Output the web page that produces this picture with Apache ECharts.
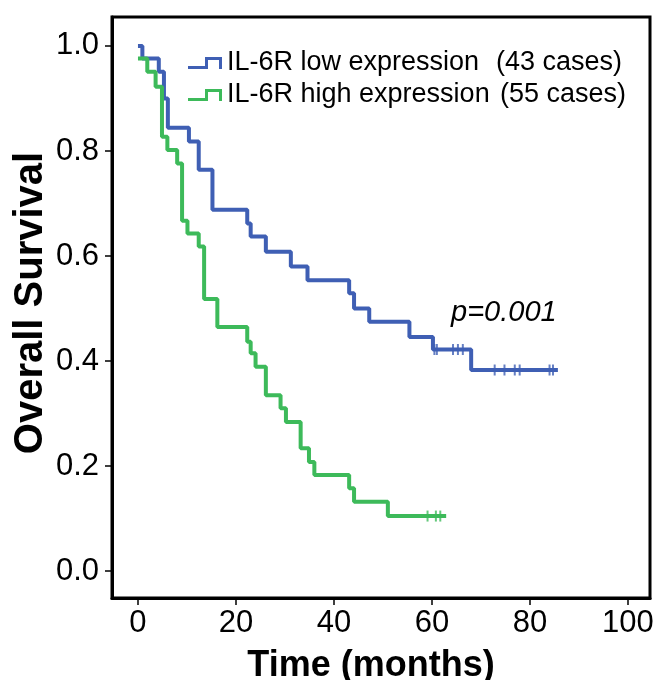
<!DOCTYPE html>
<html>
<head>
<meta charset="utf-8">
<script src="https://cdn.jsdelivr.net/npm/echarts@6/dist/echarts.min.js"></script>
<style>html,body{margin:0;padding:0;background:#fff;}#c{width:654px;height:680px;}</style>
</head>
<body>
<div id="c"></div>
<script>
// ---- data ----
const lowName = 'IL-6R low expression';
const highName = 'IL-6R high expression';
const lowCases = '(43 cases)';
const highCases = '(55 cases)';
const yTitle = 'Overall Survival';
const xTitle = 'Time (months)';
// Kaplan-Meier steps: [time (months), survival] — survival changes at each time
const lowCurve = [
  [0, 1.0], [0.9, 0.976], [4.25, 0.951], [5.3, 0.900], [6.1, 0.844],
  [10.4, 0.818], [12.4, 0.764], [15.2, 0.688], [22.3, 0.662], [23.0, 0.637],
  [26.1, 0.608], [31.2, 0.580], [34.6, 0.554], [43.1, 0.529], [44.1, 0.500],
  [47.2, 0.475], [55.4, 0.446], [60.2, 0.422], [68.0, 0.383], [85.7, 0.383]
];
const highCurve = [
  [0, 0.976], [1.9, 0.951], [3.6, 0.922], [4.9, 0.827],
  [6.0, 0.802], [8.0, 0.776], [9.0, 0.667], [10.1, 0.643], [12.4, 0.618],
  [13.5, 0.518], [16.2, 0.465], [22.3, 0.437], [23.0, 0.415], [24.0, 0.389],
  [26.1, 0.335], [29.1, 0.310], [30.2, 0.284], [33.2, 0.234], [34.9, 0.208],
  [36.0, 0.183], [43.1, 0.158], [44.1, 0.132], [51.0, 0.105], [62.9, 0.105]
];
// censored observations
const lowCensored = [
  [60.5, 0.422], [61.0, 0.422], [64.3, 0.422], [65.3, 0.422], [66.3, 0.422],
  [72.8, 0.383], [74.8, 0.383], [76.9, 0.383], [77.9, 0.383], [84.0, 0.383], [84.7, 0.383]
];
const highCensored = [[59.1, 0.105], [60.8, 0.105], [61.7, 0.105]];
const xTicks = [0, 20, 40, 60, 80, 100];
const yTicks = [0, 0.2, 0.4, 0.6, 0.8, 1.0];
const pText = 'p=0.001';

// ---- chart ----
const BLUE = '#3f5fb4';
const GREEN = '#3dba5a';
const FONT = '"Liberation Sans", Arial, sans-serif';
const stepIcon = 'path://M0,9 L17,9 L17,0 L34,0 L34,12 L31,12 L31,3 L20,3 L20,12 L0,12 Z';
const LEG = 27;

const chart = echarts.init(document.getElementById('c'), null, {renderer: 'canvas'});
chart.setOption({
  animation: false,
  backgroundColor: '#fff',
  grid: {
    left: 112, right: 4, top: 17, bottom: 82,
    containLabel: false, outerBoundsMode: 'none',
    show: true, borderColor: '#000', borderWidth: 3, backgroundColor: 'transparent'
  },
  legend: {
    orient: 'vertical', left: 188, top: 49, itemGap: 4, padding: 0,
    itemWidth: 34, itemHeight: 12, selectedMode: false,
    itemStyle: {borderWidth: 0},
    data: [
      {name: lowName, icon: stepIcon},
      {name: highName, icon: stepIcon}
    ],
    formatter: function (name) {
      return name === lowName
        ? '{a|' + name + '}{c|' + lowCases + '}'
        : '{b|' + name + '}{c|' + highCases + '}';
    },
    textStyle: {
      fontFamily: FONT, fontSize: LEG, color: '#000', lineHeight: 28,
      rich: {
        a: {width: 269, fontFamily: FONT, fontSize: LEG, color: '#000'},
        b: {width: 273, fontFamily: FONT, fontSize: LEG, color: '#000'},
        c: {fontFamily: FONT, fontSize: LEG, color: '#000'}
      }
    }
  },
  xAxis: {
    type: 'value', min: -5.3, max: 104.5,
    name: xTitle, nameLocation: 'middle', nameGap: 50,
    nameTextStyle: {fontFamily: FONT, fontSize: 36, fontWeight: 'bold', color: '#000', padding: [0, 20, 0, 0]},
    axisLine: {show: true, onZero: false, lineStyle: {color: '#000', width: 3}},
    axisTick: {show: true, length: 7, customValues: xTicks, lineStyle: {color: '#000', width: 1.5}},
    axisLabel: {customValues: xTicks, margin: 10, fontFamily: FONT, fontSize: 31, color: '#000'},
    splitLine: {show: false}
  },
  yAxis: {
    type: 'value', min: -0.051, max: 1.055,
    axisLine: {show: true, onZero: false, lineStyle: {color: '#000', width: 3}},
    axisTick: {show: true, length: 7, customValues: yTicks, lineStyle: {color: '#000', width: 1.5}},
    axisLabel: {customValues: yTicks, margin: 13, fontFamily: FONT, fontSize: 31, color: '#000',
      formatter: function (v) { return v.toFixed(1); }},
    splitLine: {show: false}
  },
  series: [
    {
      name: lowName, type: 'line', step: 'end', data: lowCurve,
      showSymbol: false, symbol: 'none', color: BLUE,
      lineStyle: {color: BLUE, width: 4}, z: 3
    },
    {
      name: highName, type: 'line', step: 'end', data: highCurve,
      showSymbol: false, symbol: 'none', color: GREEN,
      lineStyle: {color: GREEN, width: 4}, z: 4
    },
    {
      name: 'lowCensored', type: 'scatter', data: lowCensored,
      symbol: 'rect', symbolSize: [2, 11], itemStyle: {color: BLUE}, z: 5
    },
    {
      name: 'highCensored', type: 'scatter', data: highCensored,
      symbol: 'rect', symbolSize: [2, 11], itemStyle: {color: GREEN}, z: 5
    }
  ],
  graphic: [
    {
      type: 'text', left: 451, top: 298,
      style: {text: pText, fontFamily: FONT, fontSize: 29, fontStyle: 'italic', fill: '#000'}
    },
    {
      type: 'text', x: 31, y: 303, rotation: Math.PI / 2,
      style: {text: yTitle, fontFamily: FONT, fontSize: 40, fontWeight: 'bold', fill: '#000',
        align: 'center', verticalAlign: 'middle'}
    }
  ]
});
</script>
</body>
</html>
